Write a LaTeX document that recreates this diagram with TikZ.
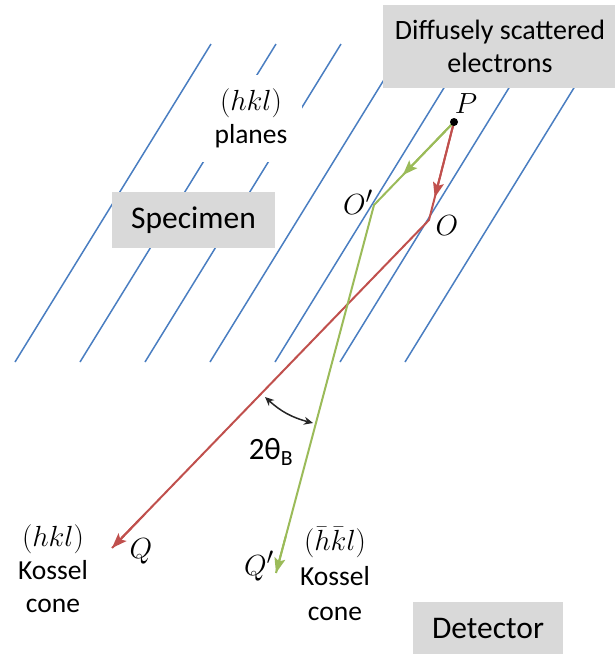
\documentclass[tikz,border=0pt]{standalone}
\usepackage{graphicx}
\usepackage{fontspec}
\setmainfont{Carlito}
\usetikzlibrary{arrows.meta,calc,positioning}
\definecolor{KsBlue}{RGB}{74,126,193}
\definecolor{KsRed}{RGB}{192,80,77}
\definecolor{KsGreen}{RGB}{155,187,89}
\definecolor{KsGray}{RGB}{217,217,217}
\newcommand{\ksmath}[1]{\scalebox{1.17}{$#1$}}
\tikzset{
  ks/plane/.style={draw=KsBlue, line width=1.5pt},
  ks/ray/.style={line width=2pt, line join=round},
  ks/tip/.style={-{Stealth[length=15pt,width=11pt,inset=3pt]}},
  ks/label/.style={
    font=\fontsize{27.5}{33}\selectfont,
    align=center,
    inner sep=0pt
  },
  ks/greybox/.style={
    fill=KsGray,
    align=center,
    inner sep=0pt
  },
  ks/angle/.style={{Stealth[length=9pt,width=8pt]}-{Stealth[length=9pt,width=8pt]}, line width=1.5pt, draw=black!85}
}

\begin{document}
\begin{tikzpicture}[x=1pt,y=-1pt]
  \useasboundingbox (0,0) rectangle (615,654);
  % crystal planes
  \foreach \i in {0,...,6}
    \draw[ks/plane] ({15+65*\i},362) -- ({211+65*\i},44);

  \node[ks/label, fill=white, minimum width=102pt, minimum height=87pt] (planes) at (251,118) {\ksmath{(hkl)}\\planes};
  \node[ks/greybox, minimum width=163pt, minimum height=56pt, font=\fontsize{31.5}{36}\selectfont] (spec) at (193.5,220) {Specimen};
  \node[ks/greybox, minimum width=234pt, minimum height=83pt, font=\fontsize{28}{33}\selectfont] (diff) at (500,46.5) {Diffusely scattered\\electrons};
  \node[ks/greybox, minimum width=150pt, minimum height=54pt, font=\fontsize{31.5}{36}\selectfont] (det) at (488,629) {Detector};

  \coordinate (P) at (454,122);
  \coordinate (O) at (429,220);
  \coordinate (Op) at (374,205);
  \coordinate (Q) at (112,548);
  \coordinate (Qp) at (276,573);

  % reflected rays
  \draw[ks/ray, draw=KsRed] (P) -- (O) -- (Q);
  \draw[ks/ray, draw=KsRed, ks/tip] (P) -- ($(P)!0.77!(O)$);
  \draw[ks/ray, draw=KsRed, ks/tip] ($(O)!0.9!(Q)$) -- (Q);
  \draw[ks/ray, draw=KsGreen] (P) -- (Op) -- (Qp);
  \draw[ks/ray, draw=KsGreen, ks/tip] (P) -- ($(P)!0.64!(Op)$);
  \draw[ks/ray, draw=KsGreen, ks/tip] ($(Op)!0.9!(Qp)$) -- (Qp);
  \fill (P) circle (4pt);

  \coordinate (a1) at (265,397);
  \coordinate (a2) at (313,423);
  \draw[ks/angle] (a1) to[bend right=14] (a2);

  \node[ks/label] (lP) at (466,104) {\ksmath{P}};
  \node[ks/label] (lO) at (447,226) {\ksmath{O}};
  \node[ks/label] (lOp) at (358,202) {\ksmath{O'}};
  \node[ks/label] (lQ) at (141,551) {\ksmath{Q}};
  \node[ks/label] (lQp) at (259,566) {\ksmath{Q'}};
  \node[ks/label, font=\fontsize{31}{36}\selectfont] (ang) at (271,452) {2θ\textsubscript{B}};
  \node[ks/label] (kl) at (53,569) {\ksmath{(hkl)}\\Kossel\\cone};
  \node[ks/label, font=\fontsize{27.5}{35}\selectfont] (kr) at (335,574) {\ksmath{(\bar{h}\bar{k}l)}\\Kossel\\cone};
\end{tikzpicture}
\end{document}
